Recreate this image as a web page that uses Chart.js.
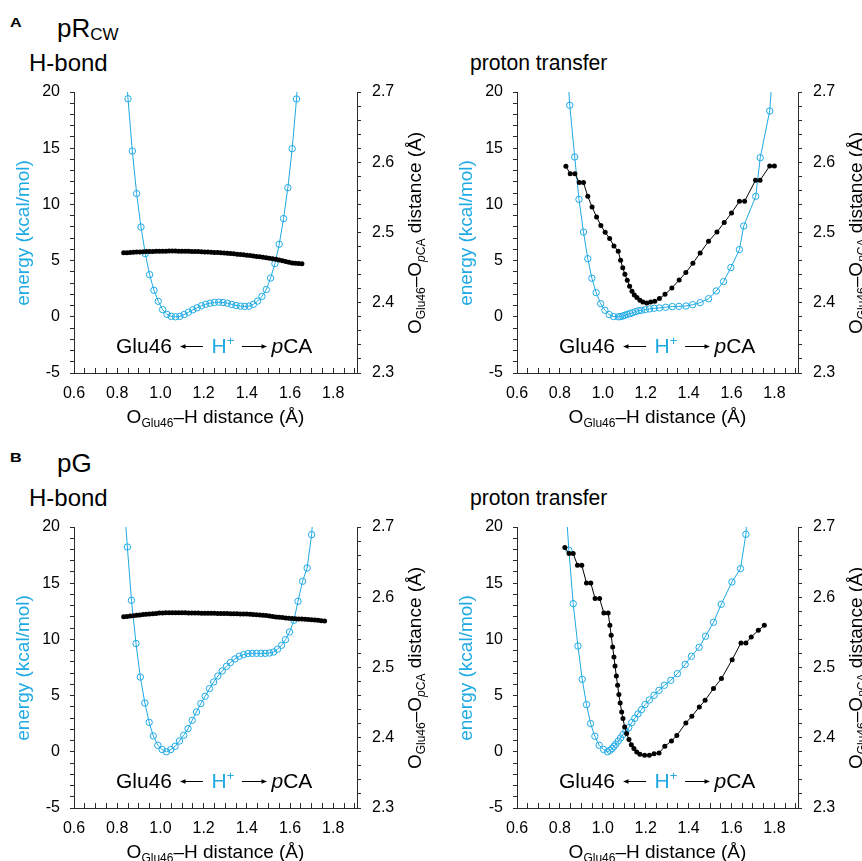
<!DOCTYPE html>
<html><head><meta charset="utf-8">
<script src="https://cdn.jsdelivr.net/npm/chart.js@4.4.0/dist/chart.umd.min.js"></script>
<style>
html,body{margin:0;padding:0;background:#fff;}
#wrap{position:relative;width:862px;height:861px;overflow:hidden;font-family:'Liberation Sans',Arial,Helvetica,sans-serif;color:#000;background:#fff;}
canvas{position:absolute;}
.t{position:absolute;white-space:nowrap;line-height:1;}
.rot{position:absolute;white-space:nowrap;line-height:1;transform:translate(-50%,-50%) rotate(-90deg);}
.sb{font-size:12px;position:relative;top:4px;}
svg{position:absolute;overflow:visible;}
</style></head>
<body><div id="wrap"></div>
<script>
// ---------- DATA ----------
// x tick labels and axis tick labels
const xTickLabels = [0.6, 0.8, 1.0, 1.2, 1.4, 1.6, 1.8];
const energyTickLabels = [-5, 0, 5, 10, 15, 20];
const distTickLabels = [2.3, 2.4, 2.5, 2.6, 2.7];

// pR_CW, H-bond
const pRcwHbEnergyX = [0.83,0.85,0.87,0.89,0.91,0.93,0.95,0.97,0.99,1.01,1.03,1.05,1.07,1.09,1.11,1.13,1.15,1.17,1.19,1.21,1.23,1.25,1.27,1.29,1.31,1.33,1.35,1.37,1.39,1.41,1.43,1.45,1.47,1.49,1.51,1.53,1.55,1.57,1.59,1.61,1.63,1.65];
const pRcwHbEnergy = [24.8,19.4,14.75,10.96,7.99,5.62,3.75,2.36,1.38,0.64,0.22,0.04,0.0,0.04,0.2,0.41,0.62,0.8,0.98,1.12,1.21,1.27,1.3,1.27,1.21,1.1,1.01,0.95,0.92,0.95,1.1,1.4,1.82,2.42,3.45,4.73,6.45,8.74,11.49,14.96,19.38,24.6];
const pRcwHbDistX = [0.830,0.845,0.860,0.875,0.890,0.905,0.920,0.935,0.950,0.965,0.980,0.995,1.010,1.025,1.040,1.055,1.070,1.085,1.100,1.115,1.130,1.145,1.160,1.175,1.190,1.205,1.220,1.235,1.250,1.265,1.280,1.295,1.310,1.325,1.340,1.355,1.370,1.385,1.400,1.415,1.430,1.445,1.460,1.475,1.490,1.505,1.520,1.535,1.550,1.565,1.580,1.595,1.610,1.625,1.640,1.655];
const pRcwHbDist = [2.4710,2.4713,2.4716,2.4719,2.4722,2.4724,2.4726,2.4728,2.4730,2.4731,2.4732,2.4733,2.4734,2.4734,2.4735,2.4735,2.4735,2.4734,2.4734,2.4733,2.4732,2.4731,2.4730,2.4728,2.4726,2.4724,2.4722,2.4720,2.4717,2.4714,2.4711,2.4708,2.4704,2.4700,2.4696,2.4692,2.4687,2.4682,2.4677,2.4672,2.4666,2.4660,2.4654,2.4648,2.4641,2.4634,2.4626,2.4618,2.4609,2.4599,2.4588,2.4577,2.4567,2.4561,2.4558,2.4556];

// pR_CW, proton transfer
const pRcwPtEnergyX = [0.826,0.846,0.869,0.889,0.910,0.930,0.949,0.969,0.990,1.010,1.030,1.050,1.072,1.083,1.093,1.103,1.114,1.127,1.139,1.153,1.167,1.181,1.198,1.218,1.239,1.264,1.293,1.324,1.355,1.388,1.419,1.454,1.493,1.529,1.563,1.597,1.637,1.657,1.713,1.734,1.778,1.800];
const pRcwPtEnergy = [24.5,18.82,14.22,10.45,7.54,5.17,3.43,2.15,1.17,0.58,0.20,0.02,0.0,0.02,0.07,0.13,0.22,0.28,0.37,0.46,0.55,0.58,0.64,0.70,0.76,0.79,0.85,0.91,0.93,0.96,1.08,1.26,1.61,2.30,3.13,4.38,5.98,8.08,10.72,14.16,18.31,24.0];
const pRcwPtDistX = [0.828,0.848,0.870,0.890,0.910,0.930,0.950,0.971,0.991,1.011,1.032,1.052,1.072,1.083,1.093,1.103,1.114,1.125,1.136,1.147,1.159,1.173,1.187,1.205,1.223,1.242,1.264,1.290,1.322,1.356,1.387,1.420,1.454,1.493,1.532,1.566,1.600,1.637,1.661,1.712,1.733,1.778,1.800];
const pRcwPtDist = [2.5942,2.5838,2.5838,2.5710,2.5710,2.5515,2.5363,2.5221,2.5098,2.5003,2.4913,2.4808,2.4732,2.4604,2.4500,2.4405,2.4320,2.4234,2.4163,2.4110,2.4073,2.4035,2.4011,2.3996,2.4011,2.4021,2.4059,2.4120,2.4210,2.4324,2.4429,2.4562,2.4708,2.4875,2.5007,2.5141,2.5278,2.5444,2.5444,2.5743,2.5743,2.5947,2.5947];

// pG, H-bond
const pGHbEnergyX = [0.827,0.847,0.866,0.887,0.907,0.928,0.948,0.967,0.988,1.008,1.028,1.048,1.068,1.088,1.108,1.128,1.147,1.167,1.187,1.207,1.227,1.247,1.266,1.286,1.306,1.324,1.345,1.365,1.385,1.405,1.425,1.445,1.465,1.485,1.505,1.524,1.542,1.561,1.579,1.598,1.618,1.637,1.658,1.679,1.700,1.720];
const pGHbEnergy = [23.5,18.22,13.48,9.63,6.65,4.34,2.62,1.41,0.58,0.20,0.0,0.20,0.49,0.96,1.47,2.06,2.80,3.54,4.29,4.94,5.62,6.21,6.74,7.19,7.61,7.94,8.26,8.50,8.65,8.74,8.76,8.76,8.76,8.76,8.79,8.88,9.12,9.48,9.98,10.66,11.70,13.39,15.17,16.35,19.32,25.0];
const pGHbDistX = [0.830,0.845,0.860,0.875,0.890,0.905,0.920,0.935,0.950,0.965,0.980,0.995,1.010,1.025,1.040,1.055,1.070,1.085,1.100,1.115,1.130,1.145,1.160,1.175,1.190,1.205,1.220,1.235,1.250,1.265,1.280,1.295,1.310,1.325,1.340,1.355,1.370,1.385,1.400,1.415,1.430,1.445,1.460,1.475,1.490,1.505,1.520,1.535,1.550,1.565,1.580,1.595,1.610,1.625,1.640,1.655,1.670,1.685,1.700,1.715,1.730,1.745,1.760];
const pGHbDist = [2.5721,2.5727,2.5733,2.5738,2.5743,2.5748,2.5753,2.5757,2.5761,2.5765,2.5770,2.5775,2.5777,2.5779,2.5781,2.5781,2.5781,2.5780,2.5779,2.5778,2.5777,2.5776,2.5776,2.5775,2.5774,2.5774,2.5773,2.5772,2.5771,2.5770,2.5769,2.5768,2.5767,2.5766,2.5765,2.5764,2.5763,2.5762,2.5760,2.5757,2.5754,2.5751,2.5748,2.5744,2.5739,2.5733,2.5727,2.5720,2.5715,2.5710,2.5706,2.5702,2.5698,2.5695,2.5692,2.5689,2.5686,2.5683,2.5680,2.5676,2.5671,2.5666,2.5661];

// pG, proton transfer
const pGPtEnergyX = [0.822,0.842,0.862,0.884,0.904,0.924,0.943,0.963,0.983,1.004,1.022,1.033,1.043,1.052,1.061,1.072,1.083,1.094,1.107,1.121,1.135,1.149,1.164,1.180,1.197,1.217,1.239,1.262,1.287,1.317,1.348,1.384,1.413,1.449,1.479,1.516,1.552,1.602,1.642,1.667,1.685];
const pGPtEnergy = [23.5,17.93,13.18,9.41,6.45,4.20,2.51,1.38,0.58,0.20,0.0,0.13,0.28,0.49,0.69,0.96,1.23,1.53,1.82,2.15,2.60,2.98,3.37,3.75,4.20,4.61,5.03,5.47,5.92,6.36,6.96,7.78,8.50,9.30,10.28,11.52,13.12,15.11,16.30,19.35,24.0];
const pGPtDistX = [0.823,0.843,0.862,0.882,0.902,0.924,0.944,0.964,0.985,1.005,1.025,1.033,1.039,1.046,1.052,1.057,1.063,1.069,1.075,1.081,1.088,1.094,1.102,1.111,1.122,1.133,1.145,1.158,1.173,1.195,1.217,1.239,1.262,1.289,1.320,1.345,1.387,1.415,1.450,1.477,1.516,1.553,1.603,1.644,1.667,1.692,1.725,1.753];
const pGPtDist = [2.6707,2.6621,2.6621,2.6455,2.6455,2.6203,2.6203,2.5981,2.5981,2.5776,2.5776,2.5601,2.5458,2.5292,2.5149,2.5021,2.4879,2.4747,2.4614,2.4495,2.4367,2.4273,2.4153,2.4059,2.3974,2.3902,2.3846,2.3797,2.3764,2.3750,2.3750,2.3774,2.3783,2.3878,2.3954,2.4031,2.4210,2.4305,2.4438,2.4533,2.4700,2.4842,2.5112,2.5349,2.5349,2.5434,2.5530,2.5601];

// ---------- STYLE / LAYOUT ----------
const BLUE = '#1faae4';
const AXC = '#2b2b2b';
const FONT = "'Liberation Sans', Arial, Helvetica, sans-serif";
const wrap = document.getElementById('wrap');
Chart.defaults.font.family = FONT;

function steps(a, b, n) { const out = []; for (let i = 0; i <= n; i++) out.push(+(a + (b - a) * i / n).toFixed(4)); return out; }
const xMinor = steps(0.6, 1.9, 26);
const eMinor = steps(-5, 20, 25);
const dMinor = steps(2.3, 2.7, 20);
const near = (v, arr) => arr.some(a => Math.abs(a - v) < 1e-6);

const CW = 431, CH = 350;
function fixV(w) { return s => { s.width = w; s.paddingTop = 0; s.paddingBottom = 0; }; }
function makeChart(p) {
  const cv = document.createElement('canvas');
  cv.width = CW; cv.height = CH;
  cv.style.left = p.left + 'px'; cv.style.top = p.top + 'px';
  wrap.appendChild(cv);
  const axL = p.axL - p.left, axR = p.axR - p.left;
  const tickFont = { family: FONT, size: 16 };
  new Chart(cv.getContext('2d'), {
    type: 'line',
    data: { datasets: [
      { label: 'O–O distance', data: p.dx.map((x, i) => ({ x, y: p.dy[i] })), yAxisID: 'y2',
        borderColor: '#000', backgroundColor: '#000', borderWidth: 1, pointRadius: 2.5, pointBorderWidth: 0,
        pointBackgroundColor: '#000', tension: 0 },
      { label: 'energy', data: p.ex.map((x, i) => ({ x, y: p.ey[i] })), yAxisID: 'y',
        borderColor: BLUE, borderWidth: 1, pointRadius: 3.2, pointBorderWidth: 1, pointBorderColor: BLUE,
        pointBackgroundColor: 'rgba(255,255,255,0)', tension: 0 }
    ]},
    options: {
      responsive: false, animation: false, devicePixelRatio: 1,
      events: [],
      layout: { padding: { left: axL - 50, right: CW - axR - 50, top: 12, bottom: CH - 293 - 40 } },
      plugins: { legend: { display: false }, tooltip: { enabled: false } },
      scales: {
        x: { type: 'linear', position: 'bottom', min: 0.6, max: 1.91,
          afterBuildTicks: s => { s.ticks = xMinor.map(v => ({ value: v })); },
          afterFit: s => { s.height = 40; s.paddingLeft = 0; s.paddingRight = 0; },
          ticks: { autoSkip: false, maxRotation: 0, minRotation: 0, padding: 16, font: tickFont, color: '#000',
            callback: v => near(v, xTickLabels) ? v.toFixed(1) : '' },
          grid: { drawOnChartArea: false, drawTicks: true, tickLength: -5, color: AXC, lineWidth: 1 },
          border: { display: true, color: AXC, width: 1 } },
        y: { type: 'linear', position: 'left', min: -5, max: 20,
          afterBuildTicks: s => { s.ticks = eMinor.map(v => ({ value: v })); },
          afterFit: fixV(50),
          ticks: { autoSkip: false, padding: 10, font: tickFont, color: '#000',
            callback: v => near(v, energyTickLabels) ? String(Math.round(v)) : '' },
          grid: { drawOnChartArea: false, drawTicks: true, tickLength: 4, color: AXC, lineWidth: 1 },
          border: { display: true, color: AXC, width: 1 } },
        y2: { type: 'linear', position: 'right', min: 2.3, max: 2.7,
          afterBuildTicks: s => { s.ticks = dMinor.map(v => ({ value: v })); },
          afterFit: fixV(50),
          ticks: { autoSkip: false, padding: 11, font: tickFont, color: '#000',
            callback: v => near(v, distTickLabels) ? v.toFixed(1) : '' },
          grid: { drawOnChartArea: false, drawTicks: true, tickLength: 4, color: AXC, lineWidth: 1 },
          border: { display: true, color: AXC, width: 1 } }
      }
    }
  });
}

function txt(html, left, baseline, size, style) {
  const d = document.createElement('div');
  d.className = 't'; d.innerHTML = html;
  d.style.cssText = `left:${left}px;top:${baseline - 0.8465 * size}px;font-size:${size}px;` + (style || '');
  wrap.appendChild(d);
}
function rot(html, cx, cy, size, style) {
  const d = document.createElement('div');
  d.className = 'rot'; d.innerHTML = html;
  d.style.cssText = `left:${cx}px;top:${cy}px;font-size:${size}px;` + (style || '');
  wrap.appendChild(d);
}
function ctr(html, cx, baseline, size, style) {
  const d = document.createElement('div');
  d.className = 't'; d.innerHTML = html;
  d.style.cssText = `left:${cx}px;top:${baseline - 0.8465 * size}px;font-size:${size}px;transform:translateX(-50%);` + (style || '');
  wrap.appendChild(d);
}
function arrow(x1, x2, y, dir) {
  const w = x2 - x1;
  const ns = 'http://www.w3.org/2000/svg';
  const s = document.createElementNS(ns, 'svg');
  s.setAttribute('width', w); s.setAttribute('height', 7);
  s.style.left = x1 + 'px'; s.style.top = (y - 3.5) + 'px';
  const ln = document.createElementNS(ns, 'line');
  ln.setAttribute('x1', dir < 0 ? 4 : 0); ln.setAttribute('x2', dir < 0 ? w : w - 4);
  ln.setAttribute('y1', 3.5); ln.setAttribute('y2', 3.5);
  ln.setAttribute('stroke', '#000'); ln.setAttribute('stroke-width', 1);
  const pg = document.createElementNS(ns, 'polygon');
  pg.setAttribute('points', dir < 0 ? '0,3.5 5.5,1.2 5.5,5.8' : `${w},3.5 ${w - 5.5},1.2 ${w - 5.5},5.8`);
  pg.setAttribute('fill', '#000');
  s.appendChild(ln); s.appendChild(pg);
  wrap.appendChild(s);
}

const panels = [
  { left: 0,   top: 80,  axL: 74,  axR: 357, ex: pRcwHbEnergyX, ey: pRcwHbEnergy, dx: pRcwHbDistX, dy: pRcwHbDist },
  { left: 431, top: 80,  axL: 517, axR: 798, ex: pRcwPtEnergyX, ey: pRcwPtEnergy, dx: pRcwPtDistX, dy: pRcwPtDist },
  { left: 0,   top: 515, axL: 74,  axR: 357, ex: pGHbEnergyX,   ey: pGHbEnergy,   dx: pGHbDistX,   dy: pGHbDist },
  { left: 431, top: 515, axL: 517, axR: 798, ex: pGPtEnergyX,   ey: pGPtEnergy,   dx: pGPtDistX,   dy: pGPtDist }
];
panels.forEach(makeChart);

// ---------- TEXT ----------
[0, 435].forEach((off, k) => {
  txt(k === 0 ? 'A' : 'B', 10, 27 + off, 12, 'font-weight:bold;transform:scaleX(1.35);transform-origin:0 0;');
  txt(k === 0 ? 'pR<span style="font-size:17px;position:relative;top:3px">CW</span>' : 'pG', 57, 37 + off, 26);
  txt('H-bond', 29, 71 + off, 24);
  txt('proton transfer', 470, 71 + off, 22, 'transform:scaleX(0.96);transform-origin:0 0;');
});
panels.forEach(p => {
  const B = p.top + 293, T = p.top + 12, L = p.axL, R = p.axR;
  const cy = (T + B) / 2;
  rot('energy (kcal/mol)', L - 52, cy, 19, `color:${BLUE};`);
  rot('O<span class="sb">Glu46</span>–O<span class="sb"><i>p</i>CA</span> distance (Å)', R + 57, cy, 19);
  ctr('O<span class="sb">Glu46</span>–H distance (Å)', (L + R) / 2, B + 50, 19);
  const base = B - 20;
  txt('Glu46', L + 42, base, 21);
  arrow(L + 106, L + 129, base - 6.5, -1);
  txt('H<span style="font-size:13px;position:relative;top:-8px">+</span>', L + 137.5, base, 21, `color:${BLUE};`);
  arrow(L + 167.5, L + 192.5, base - 6.5, 1);
  txt('<i>p</i>CA', L + 197.5, base, 21);
});
</script>
</body></html>
